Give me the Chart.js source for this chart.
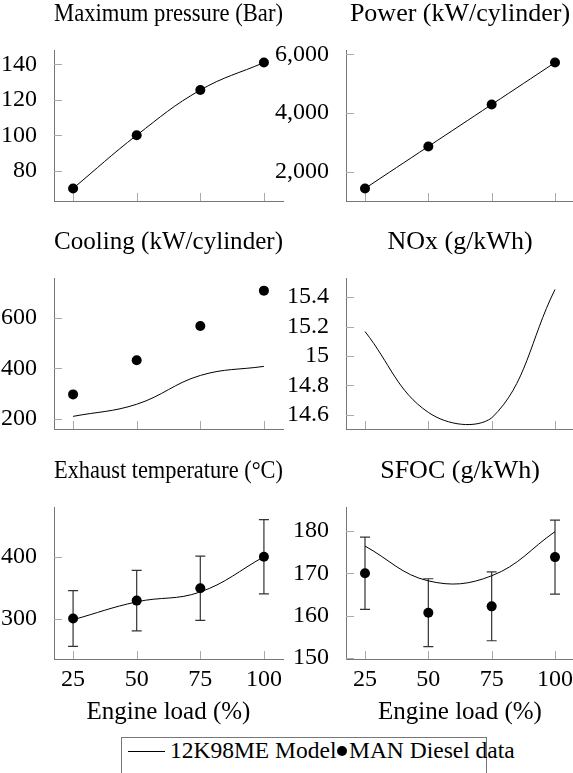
<!DOCTYPE html>
<html>
<head>
<meta charset="utf-8">
<script src="https://cdn.jsdelivr.net/npm/chart.js@4"></script>
<style>
  html, body { margin: 0; padding: 0; background: #fff; overflow: hidden; }
  #page { position: relative; width: 573px; height: 773px; overflow: hidden; }
  canvas { position: absolute; }
  #legend {
    position: absolute; left: 121px; top: 737px; width: 366px; height: 60px;
    border: 1px solid #777; box-sizing: border-box;
    font-family: 'Liberation Serif', 'Times New Roman', 'DejaVu Serif', serif; font-size: 23.5px; color: #000;
    white-space: nowrap;
  }
  #legend .line { position: absolute; left: 6px; top: 13px; width: 37px; border-top: 1px solid #000; }
  #legend .t1 { position: absolute; left: 48px; top: -1px; }
  #legend .dot { position: absolute; left: 215px; top: 8px; width: 10px; height: 10px; border-radius: 50%; background: #000; }
  #legend .t2 { position: absolute; left: 227px; top: -1px; }
</style>
</head>
<body>
<div id="page">
  <canvas id="c1"></canvas>
  <canvas id="c2"></canvas>
  <canvas id="c3"></canvas>
  <canvas id="c4"></canvas>
  <canvas id="c5"></canvas>
  <canvas id="c6"></canvas>
  <div id="legend">
    <span class="line"></span><span class="t1">12K98ME Model</span>
    <span class="dot"></span><span class="t2">MAN Diesel data</span>
  </div>
</div>
<script>
// engine load (%) on every x axis
const loads = [25, 50, 75, 100];
const loadTicks = [25, 50, 75, 100];

const pressureModel = [70, 100, 125.5, 141];
const pressureData = [70, 100, 125.5, 141];
const pressureTicks = [80, 100, 120, 140];

const powerModel = [1430, 2860, 4290, 5720];
const powerData = [1430, 2860, 4290, 5720];
const powerTicks = [2000, 4000, 6000];

const coolingModel = [210, 258, 372, 408];
const coolingData = [297, 432, 568, 708];
const coolingTicks = [200, 400, 600];

const noxModel = [15.166, 14.616, 14.578, 15.452];
const noxTicks = [14.6, 14.8, 15, 15.2, 15.4];

const exhaustModel = [298, 327, 343, 400];
const exhaustData = [300, 329, 349, 400];
const exhaustErr = [45, 49, 52, 60];
const exhaustTicks = [300, 400];

const sfocModel = [176.4, 168.2, 169.4, 179.8];
const sfocData = [170, 160.7, 162.2, 173.8];
const sfocErr = [8.5, 8, 8.1, 8.7];
const sfocTicks = [150, 160, 170, 180];

Chart.defaults.font.family = "'Liberation Serif', 'Times New Roman', 'DejaVu Serif', serif";
Chart.defaults.font.size = 24;
Chart.defaults.color = '#000';

const pts = vals => vals.map((v, i) => ({ x: loads[i], y: v }));

// small tick marks pointing into the plot
const innerTicks = {
  id: 'innerTicks',
  beforeDatasetsDraw(chart) {
    const { ctx, chartArea: a, scales: { x, y } } = chart;
    ctx.save();
    ctx.strokeStyle = '#aaa';
    ctx.lineWidth = 1;
    ctx.beginPath();
    x.ticks.forEach(t => {
      const px = Math.round(x.getPixelForValue(t.value)) + 0.5;
      ctx.moveTo(px, a.bottom);
      ctx.lineTo(px, a.bottom - 8);
    });
    y.ticks.forEach(t => {
      const py = Math.round(y.getPixelForValue(t.value)) + 0.5;
      ctx.moveTo(a.left, py);
      ctx.lineTo(a.left + 8, py);
    });
    ctx.stroke();
    ctx.restore();
  }
};

// vertical error bars with caps
const errorBars = {
  id: 'errorBars',
  beforeDatasetsDraw(chart) {
    const { ctx, scales: { x, y } } = chart;
    ctx.save();
    ctx.strokeStyle = '#333';
    ctx.lineWidth = 1.2;
    chart.data.datasets.forEach(ds => {
      if (!ds.errors) return;
      ds.data.forEach((p, i) => {
        const px = x.getPixelForValue(p.x);
        const top = y.getPixelForValue(p.y + ds.errors[i]);
        const bot = y.getPixelForValue(p.y - ds.errors[i]);
        ctx.beginPath();
        ctx.moveTo(px, top); ctx.lineTo(px, bot);
        ctx.moveTo(px - 5, top); ctx.lineTo(px + 5, top);
        ctx.moveTo(px - 5, bot); ctx.lineTo(px + 5, bot);
        ctx.stroke();
      });
    });
    ctx.restore();
  }
};

function modelSet(vals) {
  return { data: pts(vals), borderColor: '#000', borderWidth: 1, pointRadius: 0, tension: 0.4, fill: false };
}
function dataSet(vals, errs) {
  return { data: pts(vals), showLine: false, pointRadius: 5, pointBackgroundColor: '#000', pointBorderWidth: 0, errors: errs };
}

function panel(id, box, title, yTicks, yMin, yMax, datasets, bottomRow) {
  const c = document.getElementById(id);
  c.width = box.w; c.height = box.h;
  c.style.left = box.left + 'px'; c.style.top = box.top + 'px';
  new Chart(c, {
    type: 'line',
    data: { datasets },
    options: {
      responsive: false,
      animation: false,
      layout: { padding: { left: 0, right: box.padR, top: 0, bottom: 0 } },
      plugins: {
        legend: { display: false },
        tooltip: { enabled: false },
        title: {
          display: true, text: title, fullSize: false,
          font: { size: 26, weight: 'normal', lineHeight: '24px' },
          padding: { top: 0, bottom: 24 }
        }
      },
      scales: {
        x: {
          type: 'linear', min: 17.5, max: 107.5,
          afterBuildTicks: s => { s.ticks = loadTicks.map(v => ({ value: v })); },
          afterFit: s => { s.height = box.xh; },
          grid: { display: false },
          border: { display: true, color: '#777', width: 1 },
          ticks: { display: bottomRow, padding: -2 },
          title: { display: bottomRow, text: 'Engine load (%)', font: { size: 25 }, padding: { top: 0, bottom: 2 } }
        },
        y: {
          min: yMin, max: yMax,
          afterBuildTicks: s => { s.ticks = yTicks.map(v => ({ value: v })); },
          afterFit: s => { s.width = box.yw; },
          grid: { display: false },
          border: { display: true, color: '#777', width: 1 },
          ticks: { padding: 9, callback: v => v.toLocaleString('en-US') }
        }
      }
    },
    plugins: [innerTicks, errorBars]
  });
}

const L = { left: 0, w: 337, yw: 54, padR: 54 };
const R = { left: 270, w: 380, yw: 76, padR: 76 };
const row1 = { top: 2, h: 227, xh: 28 };
const row2 = { top: 230, h: 227, xh: 28 };
const row3 = { top: 459, h: 270, xh: 70 };

panel('c1', { ...L, ...row1 }, 'Maximum pressure (Bar)', pressureTicks, 62.9, 148.1,
  [modelSet(pressureModel), dataSet(pressureData)], false);
panel('c2', { ...R, ...row1 }, 'Power (kW/cylinder)', powerTicks, 1001, 6149,
  [modelSet(powerModel), dataSet(powerData)], false);
panel('c3', { ...L, ...row2 }, 'Cooling (kW/cylinder)', coolingTicks, 160, 758,
  [modelSet(coolingModel), dataSet(coolingData)], false);
panel('c4', { ...R, ...row2 }, 'NOx (g/kWh)', noxTicks, 14.503, 15.53,
  [modelSet(noxModel)], false);
panel('c5', { ...L, ...row3 }, 'Exhaust temperature (°C)', exhaustTicks, 234.5, 480.5,
  [modelSet(exhaustModel), dataSet(exhaustData, exhaustErr)], true);
panel('c6', { ...R, ...row3 }, 'SFOC (g/kWh)', sfocTicks, 149.8, 185.6,
  [modelSet(sfocModel), dataSet(sfocData, sfocErr)], true);
</script>
</body>
</html>
